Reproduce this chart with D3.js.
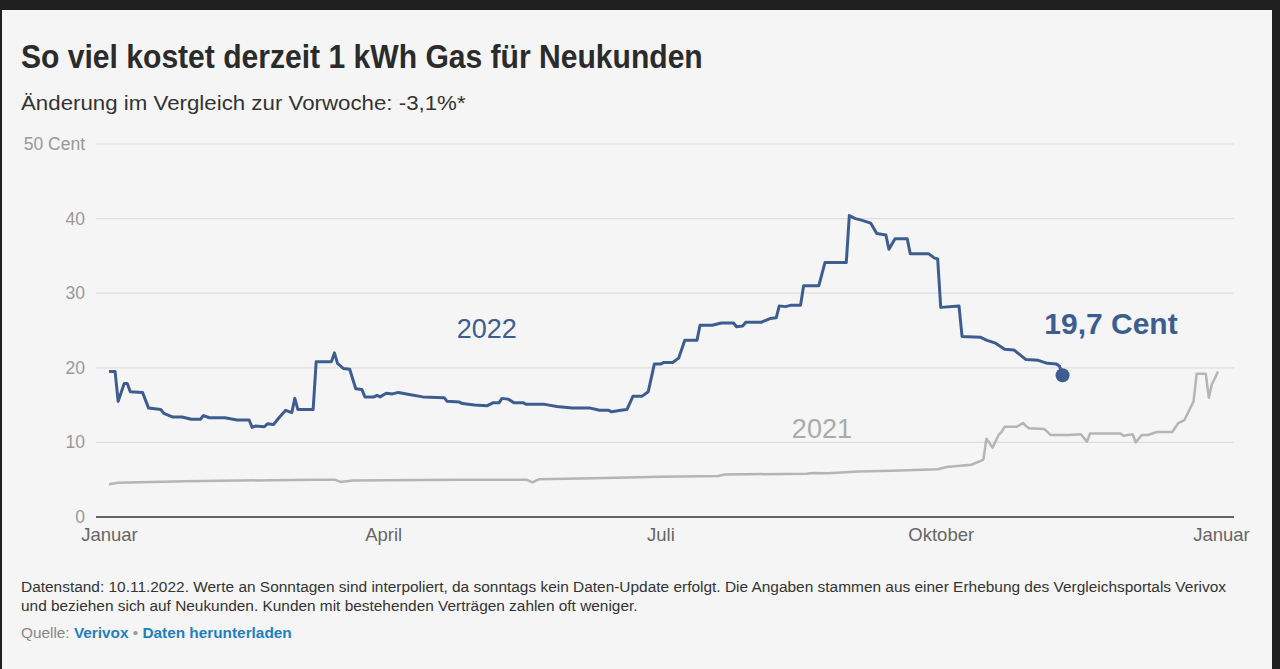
<html>
<script src='https://d3js.org/d3.v7.min.js'></script>
<style>
body {margin:0; background:#202020;}
text {font-family:'Liberation Sans', Arial, sans-serif;}
</style>
<body>
<svg width=1280 height=669></svg>
<script>
// day of year, price in cent/kWh
var days2022 = [0,2,3,5,6,7,11,13,17,18,21,24,27,30,31,33,38,42,46,47,48,51,52,54,56,58,60,61,62,67,68,73,74,75,77,79,81,83,84,87,88,89,91,93,95,99,103,110,111,115,116,120,124,126,128,129,131,133,136,137,143,147,152,158,161,164,165,168,170,172,175,177,179,181,182,185,187,189,193,194,198,201,205,206,208,209,214,217,219,220,222,224,227,228,233,235,242,243,245,247,250,252,255,256,258,262,263,269,271,272,273,279,280,286,288,291,294,297,301,305,308,311,312,313];
var values2022 = [19.5,19.5,15.5,17.9,17.9,16.8,16.7,14.6,14.4,13.9,13.4,13.4,13.1,13.1,13.6,13.3,13.3,13.0,13.0,12.0,12.2,12.1,12.5,12.4,13.4,14.3,14.0,15.9,14.4,14.4,20.8,20.8,22.0,20.6,19.9,19.8,17.2,17.1,16.1,16.1,16.3,16.1,16.6,16.5,16.7,16.4,16.1,16.0,15.5,15.4,15.2,15.0,14.9,15.3,15.3,15.9,15.8,15.3,15.3,15.1,15.1,14.8,14.6,14.6,14.3,14.3,14.1,14.3,14.4,16.2,16.2,16.8,20.5,20.5,20.7,20.7,21.3,23.7,23.7,25.7,25.7,26.0,26.0,25.5,25.6,26.1,26.1,26.6,26.7,28.3,28.2,28.4,28.4,31.0,31.0,34.1,34.1,40.4,40.0,39.8,39.4,38.0,37.8,35.9,37.3,37.3,35.3,35.3,34.7,34.6,28.1,28.3,24.2,24.1,23.7,23.3,22.5,22.4,21.1,21.0,20.6,20.5,20.2,19.0];

var days2021 = [0,3,25,67,74,76,80,115,137,139,141,159,181,200,202,229,231,236,246,257,272,275,283,286,287,288,290,292,293,294,298,300,301,302,307,309,315,319,321,322,332,333,336,337,339,341,344,349,351,353,356,357,360,361,362,363,364];
var values2021 = [4.4,4.6,4.8,5.0,5.0,4.7,4.9,5.0,5.0,4.65,5.05,5.2,5.4,5.5,5.7,5.8,5.9,5.85,6.1,6.2,6.4,6.7,7.0,7.5,7.7,10.5,9.3,11.0,11.4,12.1,12.1,12.6,12.2,11.9,11.8,11.0,11.0,11.1,10.1,11.2,11.2,10.9,11.1,10.0,11.0,11.0,11.4,11.4,12.6,13.0,15.5,19.2,19.2,16.0,17.8,18.6,19.5];

var yTicks = [0,10,20,30,40,50];
var monthTicks = [0,90,181,273,365];
var monthLabels = ['Januar','April','Juli','Oktober','Januar'];

var blue = '#3d5d91', grey = '#b5b5b5';
var svg = d3.select('svg');

// squeeze/stretch a text horizontally so it spans w px from its x
function fit(t, x, w) {
  var cw = t.node().getComputedTextLength();
  t.attr('x',0).attr('transform','translate('+x+',0) scale('+(w/cw)+',1)');
}

// frame
svg.append('rect').attr('width',1280).attr('height',669).attr('fill','#202020');
svg.append('rect').attr('x',2).attr('y',10).attr('width',1270).attr('height',659).attr('fill','#f5f5f5');

var start = new Date(2022,0,1);
var toDate = function(d) {return d3.timeDay.offset(start, d);};

xs = d3.scaleTime().domain([start, toDate(365)]).range([109,1221]);
ys = d3.scaleLinear().domain([0,50]).range([517,144]);

// grid
svg.append('g').selectAll('line').data(yTicks.slice(1)).enter().append('line')
.attr('x1',96).attr('x2',1234)
.attr('y1',function(d) {return ys(d);}).attr('y2',function(d) {return ys(d);})
.attr('stroke','#dedede').attr('stroke-width',1.2);

svg.append('g').selectAll('text').data(yTicks).enter().append('text')
.attr('x',85).attr('y',function(d) {return ys(d)+6;})
.attr('text-anchor','end').attr('fill','#999').style('font-size','17.5px')
.text(function(d) {return d == 50 ? '50 Cent' : d;});

// x axis
axis1 = d3.axisBottom(xs).tickValues(monthTicks.map(toDate)).tickSize(0).tickPadding(11)
.tickFormat(function(d,i) {return monthLabels[i];});
var gx = svg.append('g').attr('transform','translate(0,'+ys(0)+')').call(axis1);
gx.select('.domain').attr('d','M96,0H1234').attr('stroke','#333').attr('stroke-width',1.5);
gx.selectAll('text').attr('fill','#666').style('font-size','18.5px').style('font-family',"'Liberation Sans', Arial, sans-serif");

var line = d3.line()
.x(function(d) {return xs(toDate(d[0]));})
.y(function(d) {return ys(d[1]);});

svg.append('path').datum(d3.zip(days2021, values2021))
.attr('d',line).attr('fill','none').attr('stroke',grey).attr('stroke-width',2.5).attr('stroke-linejoin','round');

var s22 = d3.zip(days2022, values2022);
svg.append('path').datum(s22)
.attr('d',line).attr('fill','none').attr('stroke',blue).attr('stroke-width',3).attr('stroke-linejoin','round');

var last = s22[s22.length-1];
svg.append('circle').attr('cx',xs(toDate(last[0]))).attr('cy',ys(last[1])).attr('r',7).attr('fill',blue);

// series labels
svg.append('text').attr('x',xs(toDate(124))).attr('y',ys(24)).attr('text-anchor','middle')
.attr('fill',blue).style('font-size','27px').text('2022');
svg.append('text').attr('x',xs(toDate(234))).attr('y',ys(10.6)).attr('text-anchor','middle')
.attr('fill','#aaa').style('font-size','27px').text('2021');
svg.append('text').attr('x',xs(toDate(307))).attr('y',ys(24.5))
.attr('fill',blue).style('font-size','30px').style('font-weight','bold').text('19,7 Cent');

// title + subtitle
var title = svg.append('text').attr('y',68).attr('fill','#2b2b2b')
.style('font-weight','bold').style('font-size','33px')
.text('So viel kostet derzeit 1 kWh Gas für Neukunden');
fit(title, 21, 682);

var sub = svg.append('text').attr('y',110).attr('fill','#333').style('font-size','21px')
.text('Änderung im Vergleich zur Vorwoche: -3,1%*');
fit(sub, 21, 445);

// footer
var f1 = svg.append('text').attr('y',592).attr('fill','#333').style('font-size','14.5px')
.text('Datenstand: 10.11.2022. Werte an Sonntagen sind interpoliert, da sonntags kein Daten-Update erfolgt. Die Angaben stammen aus einer Erhebung des Vergleichsportals Verivox');
fit(f1, 21, 1206);
var f2 = svg.append('text').attr('y',611).attr('fill','#333').style('font-size','14.5px')
.text('und beziehen sich auf Neukunden. Kunden mit bestehenden Verträgen zahlen oft weniger.');
fit(f2, 21, 617);

var src = svg.append('text').attr('y',638).style('font-size','14.5px');
src.append('tspan').attr('fill','#888').text('Quelle: ');
src.append('tspan').attr('fill','#1f7fc0').style('font-weight','bold').text('Verivox');
src.append('tspan').attr('fill','#999').text(' • ');
src.append('tspan').attr('fill','#1f7fc0').style('font-weight','bold').text('Daten herunterladen');
fit(src, 21, 271);
</script>
</body>
</html>
